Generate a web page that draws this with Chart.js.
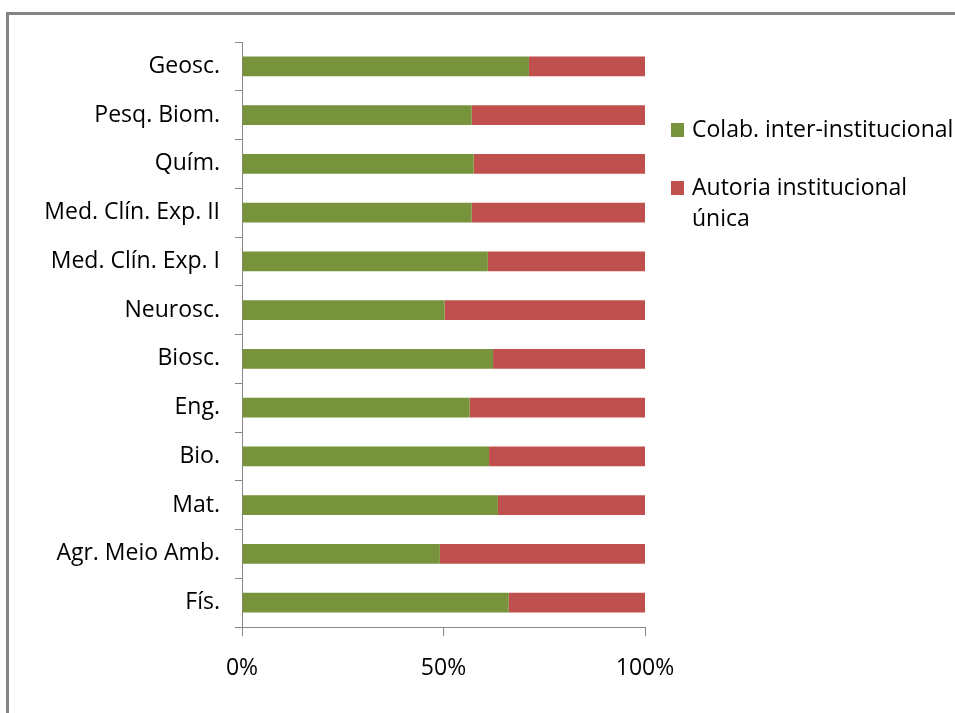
<!DOCTYPE html>
<html>
<head>
<meta charset="utf-8">
<script src="https://cdn.jsdelivr.net/npm/chart.js@4.4.0/dist/chart.umd.min.js"></script>
<style>
  body { margin: 0; background: #fff; overflow: hidden; }
  canvas { display: block; }
</style>
</head>
<body>
<canvas id="grafico" width="955" height="713"></canvas>
<script>
// areas (de cima para baixo)
const areas = ['Geosc.', 'Pesq. Biom.', 'Quím.', 'Med. Clín. Exp. II', 'Med. Clín. Exp. I',
  'Neurosc.', 'Biosc.', 'Eng.', 'Bio.', 'Mat.', 'Agr. Meio Amb.', 'Fís.'];

// % colaboracao inter-institucional
const colab = [71.2, 57.0, 57.5, 57.0, 61.0, 50.3, 62.3, 56.5, 61.3, 63.5, 49.1, 66.2];
// % autoria institucional unica
const unica = [28.8, 43.0, 42.5, 43.0, 39.0, 49.7, 37.7, 43.5, 38.7, 36.5, 50.9, 33.8];

const nomesSeries = ['Colab. inter-institucional', ['Autoria institucional', 'única']];
const coresSeries = ['#77933C', '#C0504D'];
const ticksX = [0, 50, 100];

const fonte = "'Open Sans', 'Liberation Sans', sans-serif";
const tamFonte = 23;
const cinza = '#868686';

// moldura cinza (so topo e esquerda aparecem)
const moldura = {
  id: 'moldura',
  beforeDraw(chart) {
    const ctx = chart.ctx;
    ctx.save();
    ctx.strokeStyle = '#858585';
    ctx.lineWidth = 3;
    ctx.beginPath();
    ctx.moveTo(7.5, 713);
    ctx.lineTo(7.5, 13.5);
    ctx.lineTo(960, 13.5);
    ctx.stroke();
    ctx.restore();
  }
};

// legenda desenhada a mao (texto em duas linhas)
const legenda = {
  id: 'legenda',
  afterDraw(chart) {
    const ctx = chart.ctx;
    ctx.save();
    ctx.font = tamFonte + 'px ' + fonte;
    ctx.textBaseline = 'middle';
    let y = 130;
    nomesSeries.forEach(function (nome, i) {
      ctx.fillStyle = coresSeries[i];
      ctx.fillRect(671, y - 7, 13, 14);
      ctx.fillStyle = '#000';
      const linhas = Array.isArray(nome) ? nome : [nome];
      linhas.forEach(function (l, j) {
        ctx.fillText(l, 692, y + j * 31);
      });
      y += 58;
    });
    ctx.restore();
  }
};

const ctx = document.getElementById('grafico').getContext('2d');
new Chart(ctx, {
  type: 'bar',
  data: {
    labels: areas,
    datasets: [
      { label: 'Colab. inter-institucional', data: colab, backgroundColor: coresSeries[0] },
      { label: 'Autoria institucional única', data: unica, backgroundColor: coresSeries[1] }
    ]
  },
  options: {
    indexAxis: 'y',
    responsive: false,
    animation: false,
    layout: { padding: { left: 0, top: 42, right: 310, bottom: 0 } },
    datasets: { bar: { barPercentage: 0.41, categoryPercentage: 1 } },
    plugins: { legend: { display: false }, tooltip: { enabled: false } },
    scales: {
      x: {
        stacked: true,
        min: 0,
        max: 100,
        afterFit: function (s) { s.height = 86; },
        afterBuildTicks: function (s) { s.ticks = ticksX.map(v => ({ value: v })); },
        grid: { drawOnChartArea: false, drawTicks: true, tickLength: 9, color: cinza },
        border: { color: cinza, width: 1 },
        ticks: {
          padding: 19,
          color: '#000',
          font: { family: fonte, size: tamFonte },
          callback: function (v) { return v + '%'; }
        }
      },
      y: {
        stacked: true,
        afterFit: function (s) { s.width = 242; },
        grid: { drawOnChartArea: false, drawTicks: true, tickLength: 7, color: cinza, offset: true },
        border: { color: cinza, width: 1 },
        ticks: {
          padding: 15,
          color: '#000',
          font: { family: fonte, size: tamFonte }
        }
      }
    }
  },
  plugins: [moldura, legenda]
});
</script>
</body>
</html>
